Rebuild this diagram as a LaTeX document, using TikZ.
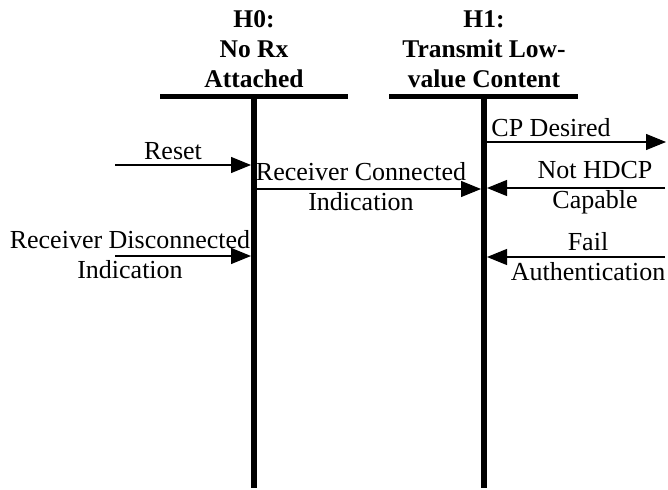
\documentclass[tikz,border=0pt]{standalone}
\usepackage{fontspec}
\setmainfont{Liberation Serif}
\usetikzlibrary{arrows.meta}
\begin{document}
\begin{tikzpicture}[x=1pt,y=-1pt,
  title/.style={font=\fontsize{25.5}{30}\selectfont\bfseries, align=center, inner sep=0pt},
  lbl/.style={font=\fontsize{26}{30}\selectfont, align=center, inner sep=0pt},
  bar/.style={line width=5pt},
  life/.style={line width=6pt},
  msg/.style={line width=1.2pt, -{Triangle[length=20pt,width=16pt]}}]
\useasboundingbox (0,0) rectangle (668,489);
% titles
\node[title] (t0a) at (254,19) {H0:};
\node[title] (t0b) at (254,49) {No Rx};
\node[title] (t0c) at (254,79) {Attached};
\node[title] (t1a) at (484,19) {H1:};
\node[title] (t1b) at (484,49) {Transmit Low-};
\node[title] (t1c) at (484,79) {value Content};
% bars and lifelines
\coordinate (b0l) at (160,97); \coordinate (b0r) at (348,97);
\coordinate (b1l) at (389,97); \coordinate (b1r) at (578,97);
\draw[bar] (b0l) -- (b0r);
\draw[bar] (b1l) -- (b1r);
\coordinate (l0t) at (254,97); \coordinate (l0b) at (254,488);
\coordinate (l1t) at (484,97); \coordinate (l1b) at (484,488);
\draw[life] (l0t) -- (l0b);
\draw[life] (l1t) -- (l1b);
% Reset
\coordinate (rs0) at (115,165); \coordinate (rs1) at (251,165);
\draw[msg] (rs0) -- (rs1);
\node[lbl, anchor=base] (rsl) at (173,160) {Reset};
% Receiver Connected Indication
\coordinate (rc0) at (257,189); \coordinate (rc1) at (481,189);
\draw[msg] (rc0) -- (rc1);
\node[lbl] (rcl) at (361,187) {Receiver Connected\\Indication};
% Receiver Disconnected Indication
\coordinate (rd0) at (115,256); \coordinate (rd1) at (251,256);
\draw[msg] (rd0) -- (rd1);
\node[lbl] (rdl) at (130,255) {Receiver Disconnected\\Indication};
% CP Desired
\coordinate (cp0) at (487,142); \coordinate (cp1) at (666,142);
\draw[msg] (cp0) -- (cp1);
\node[lbl, anchor=base] (cpl) at (551,137) {CP Desired};
% Not HDCP Capable
\coordinate (nh0) at (665,188); \coordinate (nh1) at (487,188);
\draw[msg] (nh0) -- (nh1);
\node[lbl] (nhl) at (595,188) {Not HDCP\\Capable};
% Fail Authentication
\coordinate (fa0) at (665,257); \coordinate (fa1) at (487,257);
\draw[msg] (fa0) -- (fa1);
\node[lbl] (fal) at (588,257) {Fail\\Authentication};
\end{tikzpicture}
\end{document}
